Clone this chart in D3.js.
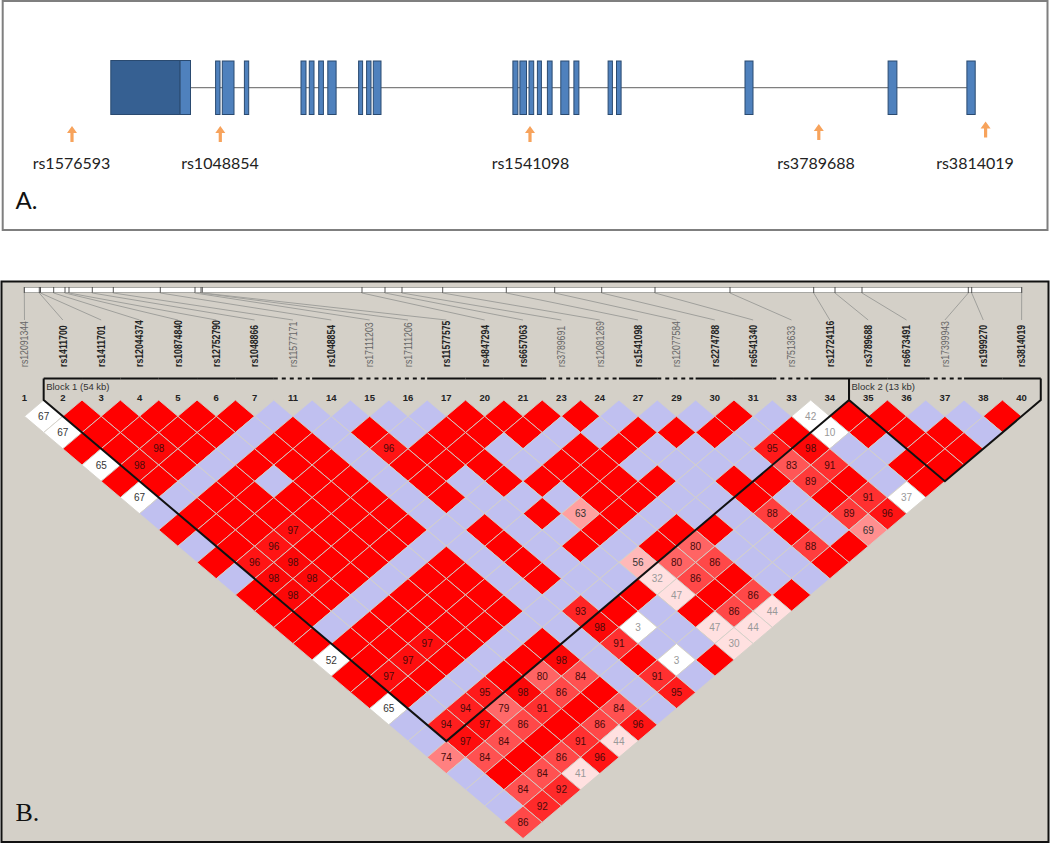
<!DOCTYPE html>
<html>
<head>
<meta charset="utf-8">
<script src="https://cdnjs.cloudflare.com/ajax/libs/d3/7.8.5/d3.min.js"></script>
<style>
  html, body { margin: 0; padding: 0; background: #fff; }
  svg { display: block; }
</style>
</head>
<body>
<div id="chart"></div>
<script>
  // panel A, gene model (positions along the gene)
  let utrDark = [0, 69.3];
  let utrLight = [69.3, 79.7];
  let exonStart = [104.8, 111.5, 133.6, 190.2, 198.5, 207.9, 217, 247.8, 255.8, 262.5, 402.1, 409.1, 418.2, 426.6, 436.6, 450, 463.1, 497.3, 505.7, 634.2, 777.3, 856.1];
  let exonEnd = [109.2, 123.2, 137.9, 195.2, 203.2, 212.6, 225.3, 251.8, 260.2, 270.2, 407.1, 415.7, 422.9, 430.6, 441.3, 458.1, 468.1, 501.6, 510.3, 642.2, 786.1, 864.4];
  let arrowPos = [-38.8, 109.5, 419.2, 708, 874.8];
  let arrowLabels = ["rs1576593", "rs1048854", "rs1541098", "rs3789688", "rs3814019"];
  let labelPos = [-39.3, 109.2, 419.7, 705.2, 864.2];
  let arrowTop = [125.9, 125.9, 125.9, 123.9, 121.5];

  // panel B, markers
  let markerIds = ["1", "2", "3", "4", "5", "6", "7", "11", "14", "15", "16", "17", "20", "21", "23", "24", "27", "29", "30", "31", "33", "34", "35", "36", "37", "38", "40"];
  let snpNames = ["rs12091344", "rs1411700", "rs1411701", "rs12044374", "rs10874840", "rs12752790", "rs1048866", "rs11577171", "rs1048854", "rs17111203", "rs17111206", "rs11577575", "rs4847294", "rs6657063", "rs3789691", "rs12081269", "rs1541098", "rs12077584", "rs2274788", "rs6541340", "rs7513633", "rs12724116", "rs3789688", "rs6673491", "rs17399943", "rs1999270", "rs3814019"];
  let tagged = [0, 1, 1, 1, 1, 1, 1, 0, 1, 0, 0, 1, 1, 1, 0, 0, 1, 0, 1, 1, 0, 1, 1, 1, 0, 1, 1];
  let snpPos = [0, 15, 16.2, 29.4, 40.7, 44.7, 68, 89, 136, 170.7, 176.7, 178, 337.7, 360.7, 377.7, 418.4, 482, 530.4, 577.4, 630.7, 705.7, 789.4, 810.7, 837.7, 944, 947.4, 997.4];
  let blocks = [
    { name: "Block 1 (54 kb)", from: 1, to: 21 },
    { name: "Block 2 (13 kb)", from: 22, to: 26 }
  ];

  // LD rows, row n compares marker i with marker i+n
  // R = D' 1 with LOD>=2, B = D' 1 with LOD<2, wNN = low LOD, NN = D' value
  let ldRows = [
    "w67 R R R R R B B B B B R R R R B B B R B w42 R R B B R",
    "w67 R R R R B R B R B R R R B B R R R B R w10 R R R B",
    "R R 98 R B R R B 96 R R B B R R B B B 95 98 B B R R",
    "w65 98 R B R R R B R R R B R R B B B B 83 91 B R R",
    "R R B R B R R B R B R R R R R B R R 89 R B R",
    "w67 B R R R R R B R B B B R R B B R B R 91 w37",
    "B R R R R R R B B B R 63 R B B B 88 B 89 96",
    "R R R 97 R R R B R B B R B R R B R B 69",
    "B R 96 R R R B B R B R B R 80 B B 88 R",
    "R 96 98 R R B R B R B B 56 80 86 B B R",
    "B 98 98 R B R R B R B B 32 86 R B B",
    "R 98 R B R R R B B B R 47 R 86 R",
    "R R B R R R R B 93 R B R 86 44",
    "R B R R R R B B 98 w3 B 47 44",
    "R R R 97 R B R B 91 B B 30",
    "w52 R 97 R B R 98 B R w3 R",
    "R 97 R B R 80 84 B 91 B",
    "R R B 95 98 86 R B 95",
    "w65 B 94 79 91 R 84 B",
    "B 94 97 86 R 86 96",
    "B 97 84 R 91 44",
    "74 84 R 86 96",
    "B R 84 41",
    "B 84 92",
    "B 92",
    "86"
  ];

  const width = 1050, height = 843;
  const svg = d3.select("#chart").append("svg")
    .attr("width", width)
    .attr("height", height);

  // ---------- panel A ----------
  svg.append("rect")
    .attr("x", 2.7).attr("y", 1)
    .attr("width", 1044.8).attr("height", 229)
    .attr("fill", "#fff")
    .attr("stroke", "#7f7f7f")
    .attr("stroke-width", 2);

  const geneX = d3.scaleLinear().domain([0, 864.4]).range([110.8, 975.2]);
  const geneTop = 61, geneBottom = 114.5, geneMid = 87.7;

  svg.append("line")
    .attr("x1", geneX(utrLight[1])).attr("x2", geneX(exonStart[exonStart.length - 1]))
    .attr("y1", geneMid).attr("y2", geneMid)
    .attr("stroke", "#7f7f7f")
    .attr("stroke-width", 1.3);

  svg.append("rect")
    .attr("x", geneX(utrDark[0])).attr("y", geneTop - 0.5)
    .attr("width", geneX(utrDark[1]) - geneX(utrDark[0])).attr("height", geneBottom - geneTop + 0.5)
    .attr("fill", "#366092").attr("stroke", "#2a4a70");
  svg.append("rect")
    .attr("x", geneX(utrLight[0])).attr("y", geneTop - 0.5)
    .attr("width", geneX(utrLight[1]) - geneX(utrLight[0])).attr("height", geneBottom - geneTop + 0.5)
    .attr("fill", "#4f81bd").attr("stroke", "#2a4a70");

  svg.append("g").selectAll("rect")
    .data(d3.range(exonStart.length))
    .join("rect")
    .attr("x", i => geneX(exonStart[i]))
    .attr("y", geneTop)
    .attr("width", i => geneX(exonEnd[i]) - geneX(exonStart[i]))
    .attr("height", geneBottom - geneTop)
    .attr("fill", "#4f81bd")
    .attr("stroke", "#2a4a70");

  // orange arrows
  svg.append("g").selectAll("path")
    .data(d3.range(arrowPos.length))
    .join("path")
    .attr("d", i => {
      let x = geneX(arrowPos[i]), t = arrowTop[i];
      return `M${x},${t}L${x + 5},${t + 7}L${x + 1.6},${t + 7}L${x + 1.6},${t + 16}L${x - 1.6},${t + 16}L${x - 1.6},${t + 7}L${x - 5},${t + 7}Z`;
    })
    .attr("fill", "#f7a35c");

  svg.append("g").selectAll("text")
    .data(arrowLabels)
    .join("text")
    .attr("x", (d, i) => geneX(labelPos[i]))
    .attr("y", 169)
    .attr("text-anchor", "middle")
    .attr("font-family", "Lato, 'Open Sans', sans-serif")
    .attr("font-size", "16px")
    .attr("fill", "#222")
    .text(d => d);

  svg.append("text")
    .attr("x", 15.5).attr("y", 209)
    .attr("font-family", "Lato, 'Open Sans', sans-serif")
    .attr("font-size", "24px")
    .attr("fill", "#111")
    .text("A.");

  // ---------- panel B ----------
  svg.append("rect")
    .attr("x", 1.5).attr("y", 281.5)
    .attr("width", 1047).attr("height", 560.5)
    .attr("fill", "#d4d0c8")
    .attr("stroke", "#111")
    .attr("stroke-width", 2);

  // ruler on top
  const posX = d3.scaleLinear().domain([0, 997.4]).range([24.3, 1021.7]);
  // marker columns and LD rows
  const x = d3.scalePoint().domain(d3.range(markerIds.length)).range([24.5, 1021.6]);
  const step = x(1) - x(0);
  const rowY = d3.scaleLinear().domain([1, 26]).range([416.3, 822.3]);
  const halfH = (rowY(2) - rowY(1));
  const halfW = step / 2;

  svg.append("rect")
    .attr("x", posX(0)).attr("y", 287.5)
    .attr("width", posX(997.4) - posX(0)).attr("height", 5)
    .attr("fill", "#fff")
    .attr("stroke", "#a8a8a4");

  svg.append("g").selectAll("line")
    .data(snpPos)
    .join("line")
    .attr("x1", d => posX(d)).attr("x2", d => posX(d))
    .attr("y1", 287).attr("y2", 293)
    .attr("stroke", "#444")
    .attr("stroke-width", 0.9);

  svg.append("g").selectAll("line")
    .data(snpPos)
    .join("line")
    .attr("x1", d => posX(d)).attr("y1", 293)
    .attr("x2", (d, i) => x(i)).attr("y2", 320)
    .attr("stroke", "#a0a09c")
    .attr("stroke-width", 1);

  // snp names, squeezed along their length like the original
  svg.append("g").selectAll("text")
    .data(snpNames)
    .join("text")
    .attr("transform", (d, i) => `translate(${x(i) + 3.8},367) rotate(-90) scale(0.83,1)`)
    .attr("font-family", "'Liberation Sans', Arial, sans-serif")
    .attr("font-size", "10.5px")
    .attr("font-weight", (d, i) => tagged[i] ? "bold" : "normal")
    .attr("fill", (d, i) => tagged[i] ? "#222" : "#666")
    .text(d => d);

  // marker numbers
  svg.append("g").selectAll("text")
    .data(markerIds)
    .join("text")
    .attr("x", (d, i) => x(i))
    .attr("y", 400.5)
    .attr("text-anchor", "middle")
    .attr("font-family", "'Liberation Sans', Arial, sans-serif")
    .attr("font-size", "9.5px")
    .attr("font-weight", "bold")
    .attr("fill", "#222")
    .text(d => d);

  // LD cells
  const blue = "#c0c0f0";
  const red = d3.scaleLinear()
    .domain([30, 47, 56, 63, 74, 80, 86, 91, 96, 98, 100])
    .range(["#ffe0e0", "#ffe0e0", "#ffb9b9", "#ffa0a0", "#ff8080", "#ff6464", "#ff4848", "#ff3030", "#ff1414", "#fc0808", "#ff0000"]);

  let cells = [];
  ldRows.forEach((row, r) => {
    row.split(" ").forEach((tok, i) => {
      let kind = tok === "R" || tok === "B" ? tok : (tok[0] === "w" ? "w" : "v");
      let value = kind === "w" ? +tok.slice(1) : (kind === "v" ? +tok : null);
      cells.push({ a: i, b: i + r + 1, kind: kind, value: value });
    });
  });

  function cellFill(d) {
    if (d.kind === "R") return "#ff0000";
    if (d.kind === "B") return blue;
    if (d.kind === "w") return "#ffffff";
    return red(d.value);
  }
  const cx = d => (x(d.a) + x(d.b)) / 2;
  const cy = d => rowY(d.b - d.a);

  svg.append("g").selectAll("path")
    .data(cells)
    .join("path")
    .attr("d", d => `M${cx(d)},${cy(d) - halfH}L${cx(d) + halfW},${cy(d)}L${cx(d)},${cy(d) + halfH}L${cx(d) - halfW},${cy(d)}Z`)
    .attr("fill", cellFill)
    .attr("stroke", "#d4d0c8")
    .attr("stroke-width", 0.9);

  svg.append("g").selectAll("text")
    .data(cells.filter(d => d.value !== null))
    .join("text")
    .attr("x", cx)
    .attr("y", d => cy(d) + 3.6)
    .attr("text-anchor", "middle")
    .attr("font-family", "'Liberation Sans', Arial, sans-serif")
    .attr("font-size", "10px")
    .attr("fill", d => d.value < 50 ? "#999" : (d.value < 70 ? "#333" : "#4a0a0a"))
    .text(d => d.value);

  // block outlines
  const outline = svg.append("g").attr("fill", "none").attr("stroke", "#111").attr("stroke-width", 2);
  blocks.forEach(b => {
    let left = x(b.from) - halfW, right = x(b.to) + halfW;
    let apexY = rowY(1) - halfH + (b.to - b.from + 1) * halfH;
    outline.append("path")
      .attr("d", `M${left},378.5L${left},${rowY(1) - halfH}L${(left + right) / 2},${apexY}L${right},${rowY(1) - halfH}L${right},378.5`);
    svg.append("text")
      .attr("x", left + 2.5).attr("y", 389.5)
      .attr("font-family", "'Liberation Sans', Arial, sans-serif")
      .attr("font-size", "9.5px")
      .attr("fill", "#333")
      .text(b.name);
  });

  // top edge of the blocks, dashed where the marker is not a tag
  svg.append("g").selectAll("line")
    .data(d3.range(1, markerIds.length))
    .join("line")
    .attr("x1", i => x(i) - halfW).attr("x2", i => x(i) + halfW)
    .attr("y1", 378.5).attr("y2", 378.5)
    .attr("stroke", "#111")
    .attr("stroke-width", 2)
    .attr("stroke-dasharray", i => tagged[i] ? null : "4 4");

  svg.append("text")
    .attr("x", 15.5).attr("y", 821)
    .attr("font-family", "'Liberation Serif', serif")
    .attr("font-size", "26px")
    .attr("fill", "#111")
    .text("B.");
</script>
</body>
</html>
